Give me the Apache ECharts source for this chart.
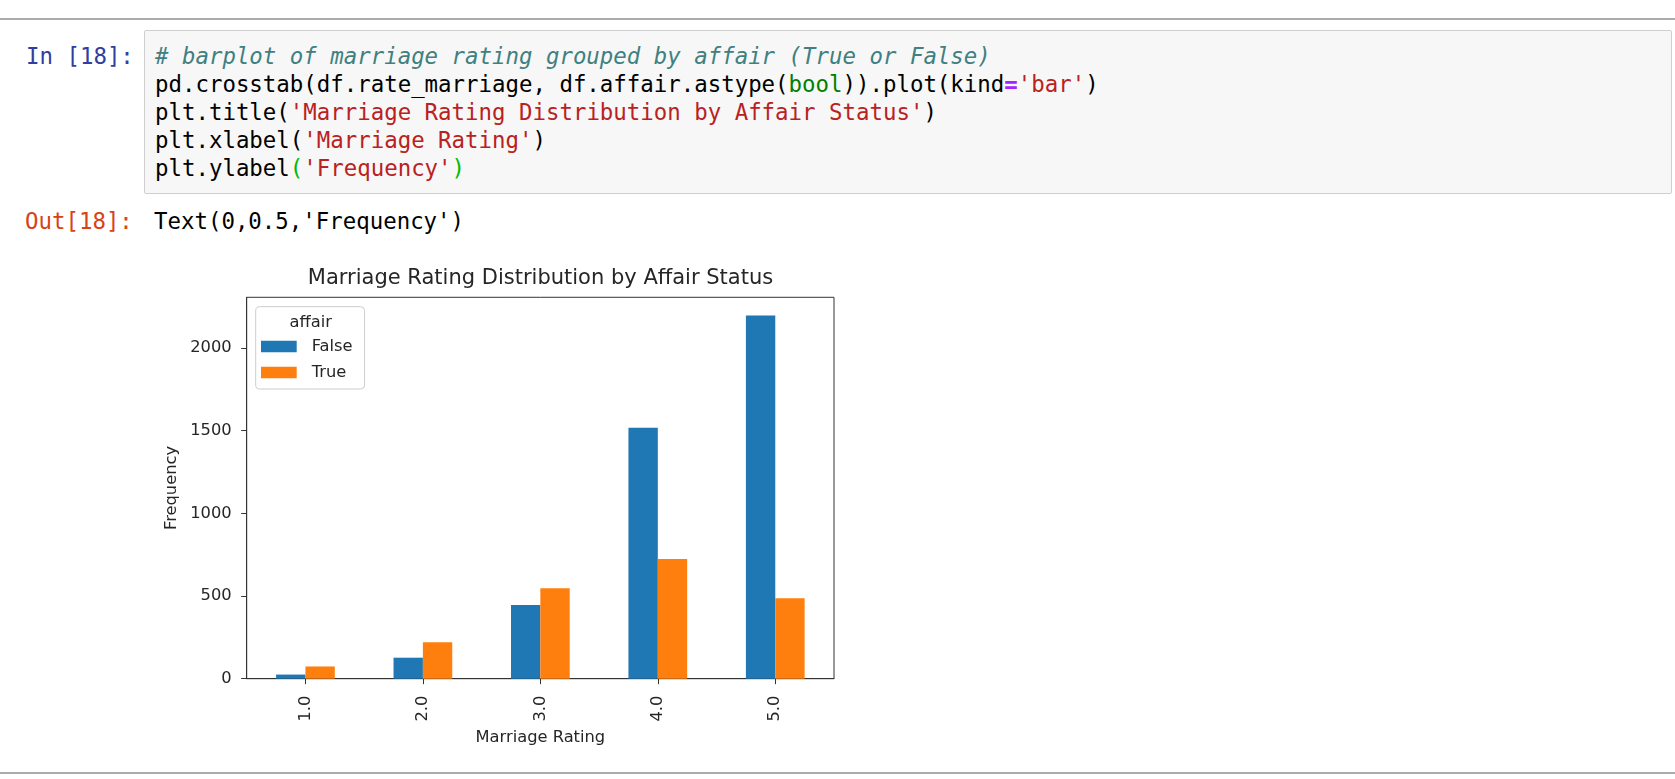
<!DOCTYPE html>
<html>
<head>
<meta charset="utf-8">
<script src="https://cdn.jsdelivr.net/npm/echarts@6/dist/echarts.min.js"></script>
<style>
  html, body { margin: 0; padding: 0; background: #fff; width: 1675px; height: 779px; overflow: hidden; }
  .mono { font-family: "DejaVu Sans Mono", monospace; font-size: 22.4px; line-height: 28.15px; white-space: pre; position: absolute; }
  #topline { position: absolute; left: 0; top: 18px; width: 1675px; height: 2px; background: #ababab; }
  #botline { position: absolute; left: 0; top: 772px; width: 1675px; height: 2px; background: #ababab; }
  #codebox { position: absolute; left: 144px; top: 30px; width: 1528px; height: 164px; background: #f7f7f7; border: 1px solid #cfcfcf; border-radius: 2px; box-sizing: border-box; }
  .cm { color: #408080; font-style: italic; }
  .st { color: #BA2121; }
  .bi { color: #008000; }
  .op { color: #AA22FF; font-weight: bold; }
  .mb { color: #00bb00; }
  #chart { position: absolute; left: 0; top: 0; width: 1081px; height: 779px; }
</style>
</head>
<body>
<div id="topline"></div>
<div id="codebox"></div>
<div class="mono" style="left:26px; top:41.6px; color:#303F9F;">In [18]:</div>
<div class="mono" style="left:155px; top:41.6px; color:#000;"><span class="cm"># barplot of marriage rating grouped by affair (True or False)</span>
pd.crosstab(df.rate_marriage, df.affair.astype(<span class="bi">bool</span>)).plot(kind<span class="op">=</span><span class="st">'bar'</span>)
plt.title(<span class="st">'Marriage Rating Distribution by Affair Status'</span>)
plt.xlabel(<span class="st">'Marriage Rating'</span>)
plt.ylabel<span class="mb">(</span><span class="st">'Frequency'</span><span class="mb">)</span></div>
<div class="mono" style="left:25px; top:207px; color:#D84315;">Out[18]:</div>
<div class="mono" style="left:154px; top:207px; color:#000;">Text(0,0.5,'Frequency')</div>
<div id="chart"></div>
<div id="botline"></div>
<script>
// ---- data ----
const categories = ['1.0', '2.0', '3.0', '4.0', '5.0'];
const noAffair = [25, 127, 446, 1518, 2197];   // affair == False
const hadAffair = [74, 221, 547, 724, 487];    // affair == True
const seriesNames = ['False', 'True'];
const yTicks = [0, 500, 1000, 1500, 2000];
const chartTitle = 'Marriage Rating Distribution by Affair Status';
const xName = 'Marriage Rating';
const yName = 'Frequency';
const legendTitle = 'affair';

const yMax = Math.max(...noAffair, ...hadAffair) * 1.05;
const txt = '#262626';
const fam = 'DejaVu Sans';
const fs = 16.3;

const chart = echarts.init(document.getElementById('chart'), null, { renderer: 'canvas' });
chart.setOption({
  animation: false,
  textStyle: { fontFamily: fam },
  title: {
    text: chartTitle,
    left: 'center',
    top: 263,
    textStyle: { fontFamily: fam, fontSize: 21, fontWeight: 'normal', color: txt }
  },
  grid: {
    left: 246.7, top: 297.3, width: 587.3, height: 381.4,
    show: true, borderColor: '#333', borderWidth: 1, backgroundColor: 'transparent',
    containLabel: false
  },
  legend: {
    data: seriesNames,
    orient: 'vertical',
    left: 255.7,
    top: 306.7,
    padding: [30.8, 12, 7.5, 5.3],
    itemWidth: 35.7,
    itemHeight: 11.6,
    itemGap: 8,
    icon: 'rect',
    borderColor: '#cccccc',
    borderWidth: 1,
    borderRadius: 4,
    backgroundColor: 'rgba(255,255,255,0.8)',
    textStyle: { fontFamily: fam, fontSize: fs, color: txt, lineHeight: 18, padding: [0, 0, 0, 10] }
  },
  graphic: [{
    type: 'text', x: 310.7, y: 322.7, z: 100,
    style: { text: legendTitle, fontFamily: fam, fontSize: fs, fill: txt, align: 'center', verticalAlign: 'middle' }
  }],
  xAxis: {
    type: 'category',
    data: categories,
    boundaryGap: true,
    axisLine: { show: true, lineStyle: { color: '#333', width: 1 } },
    axisTick: { show: true, alignWithLabel: true, length: 5.5, lineStyle: { color: '#333', width: 1 } },
    axisLabel: { rotate: 90, fontFamily: fam, fontSize: fs, color: txt, margin: 17 },
    splitLine: { show: false },
    name: xName, nameLocation: 'middle', nameGap: 51,
    nameTextStyle: { fontFamily: fam, fontSize: fs, color: txt }
  },
  yAxis: {
    type: 'value',
    min: 0,
    max: yMax,
    axisLine: { show: true, lineStyle: { color: '#333', width: 1 } },
    axisTick: { show: true, length: 5.5, customValues: yTicks, lineStyle: { color: '#333', width: 1 } },
    axisLabel: { customValues: yTicks, formatter: v => String(v), fontFamily: fam, fontSize: fs, color: txt, margin: 15 },
    splitLine: { show: false },
    name: yName, nameLocation: 'middle', nameGap: 54,
    nameTextStyle: { fontFamily: fam, fontSize: fs, color: txt }
  },
  series: [
    { type: 'bar', name: seriesNames[0], data: noAffair, barWidth: '25%', barGap: '0%', itemStyle: { color: '#1f77b4' } },
    { type: 'bar', name: seriesNames[1], data: hadAffair, barWidth: '25%', barGap: '0%', itemStyle: { color: '#ff7f0e' } }
  ]
});
</script>
</body>
</html>
